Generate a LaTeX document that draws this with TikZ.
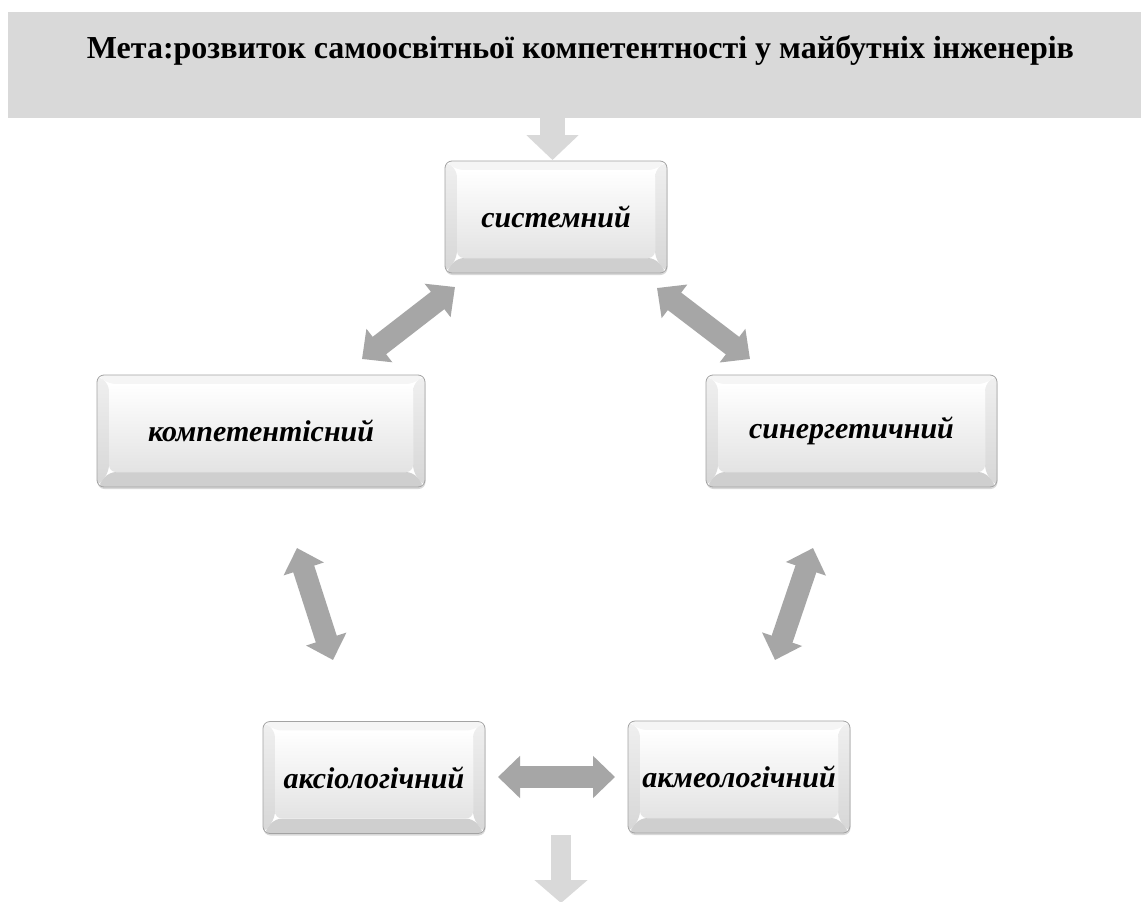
\documentclass[tikz,border=0pt]{standalone}
\usepackage{fontspec}
\setmainfont{Liberation Serif}
\usetikzlibrary{arrows.meta,shadows,calc}
\definecolor{bannergray}{HTML}{D9D9D9}
\definecolor{arrowgray}{HTML}{A6A6A6}
\definecolor{boxline}{HTML}{A3A3A3}
\begin{document}
\begin{tikzpicture}[x=1pt,y=-1pt,
  bevelbox/.style={rectangle, rounded corners=7pt, minimum height=112pt, inner sep=0pt,
    draw=boxline, line width=0.8pt, fill=white,
    drop shadow={shadow xshift=0.5pt, shadow yshift=-2pt, opacity=0.3},
    font=\fontsize{30}{35}\selectfont\bfseries\itshape,
    path picture={
      \coordinate (NW) at (path picture bounding box.north west);
      \coordinate (NE) at (path picture bounding box.north east);
      \coordinate (SW) at (path picture bounding box.south west);
      \coordinate (SE) at (path picture bounding box.south east);
      \coordinate (nw) at ([shift={(12pt,-9pt)}]NW);
      \coordinate (ne) at ([shift={(-12pt,-9pt)}]NE);
      \coordinate (sw) at ([shift={(12pt,15pt)}]SW);
      \coordinate (se) at ([shift={(-12pt,15pt)}]SE);
      \fill[black!4] (NW) -- (NE) -- (ne) -- (nw) -- cycle;
      \fill[top color=black!6, bottom color=black!16] (NW) -- (nw) -- (sw) -- (SW) -- cycle;
      \fill[top color=black!6, bottom color=black!16] (NE) -- (ne) -- (se) -- (SE) -- cycle;
      \fill[black!19] (SW) -- (sw) -- (se) -- (SE) -- cycle;
      \fill[top color=white, bottom color=black!11] (nw) rectangle (se);
    }},
  dblarrow/.style={line width=22pt, draw=arrowgray,
    {Triangle[length=22pt,width=41pt]}-{Triangle[length=22pt,width=41pt]}},
]
\useasboundingbox (0,0) rectangle (1141,902);
\fill[white] (0,0) rectangle (1141,902);

% goal banner
\node[fill=bannergray, minimum width=1133pt, minimum height=106pt, inner sep=0pt,
      anchor=north west] (goal) at (8,12) {};
\node[font=\fontsize{32}{37}\selectfont\bfseries, anchor=base, inner sep=0pt] (goaltext) at (580.5,58)
  {Мета:розвиток самоосвітньої компетентності у майбутніх інженерів};

% boxes
\node[bevelbox, minimum width=222pt] (sys) at (556,217) {системний};
\node[bevelbox, minimum width=328pt] (komp) at (261,431) {компетентісний};
\node[bevelbox, minimum width=291pt] (syn) at (851.5,431) {синергетичний};
\node[bevelbox, minimum width=222pt] (aks) at (374,777.5) {аксіологічний};
\node[bevelbox, minimum width=222pt] (akm) at (739,777) {акмеологічний};

% arrow end points
\coordinate (a1s) at (362,359);  \coordinate (a1e) at (455,287);
\coordinate (a2s) at (657,288);  \coordinate (a2e) at (750,359);
\coordinate (a3s) at (297,548);  \coordinate (a3e) at (333,660);
\coordinate (a4s) at (813,548);  \coordinate (a4e) at (775,660);
\coordinate (a5s) at (498,777);  \coordinate (a5e) at (615,777);
\coordinate (topstart) at (552.5,117);
\coordinate (toptip) at (552.5,160);
\coordinate (botstart) at (561,835);
\coordinate (bottip) at (561,903);

% connectors
\draw[dblarrow] (a1s) -- (a1e);
\draw[dblarrow] (a2s) -- (a2e);
\draw[dblarrow] (a3s) -- (a3e);
\draw[dblarrow] (a4s) -- (a4e);
\draw[dblarrow] (a5s) -- (a5e);
\draw[draw=bannergray, line width=25pt, -{Triangle[length=25pt,width=51pt]}] (topstart) -- (toptip);
\draw[draw=bannergray, line width=20pt, -{Triangle[length=23pt,width=52pt]}] (botstart) -- (bottip);
\end{tikzpicture}
\end{document}
